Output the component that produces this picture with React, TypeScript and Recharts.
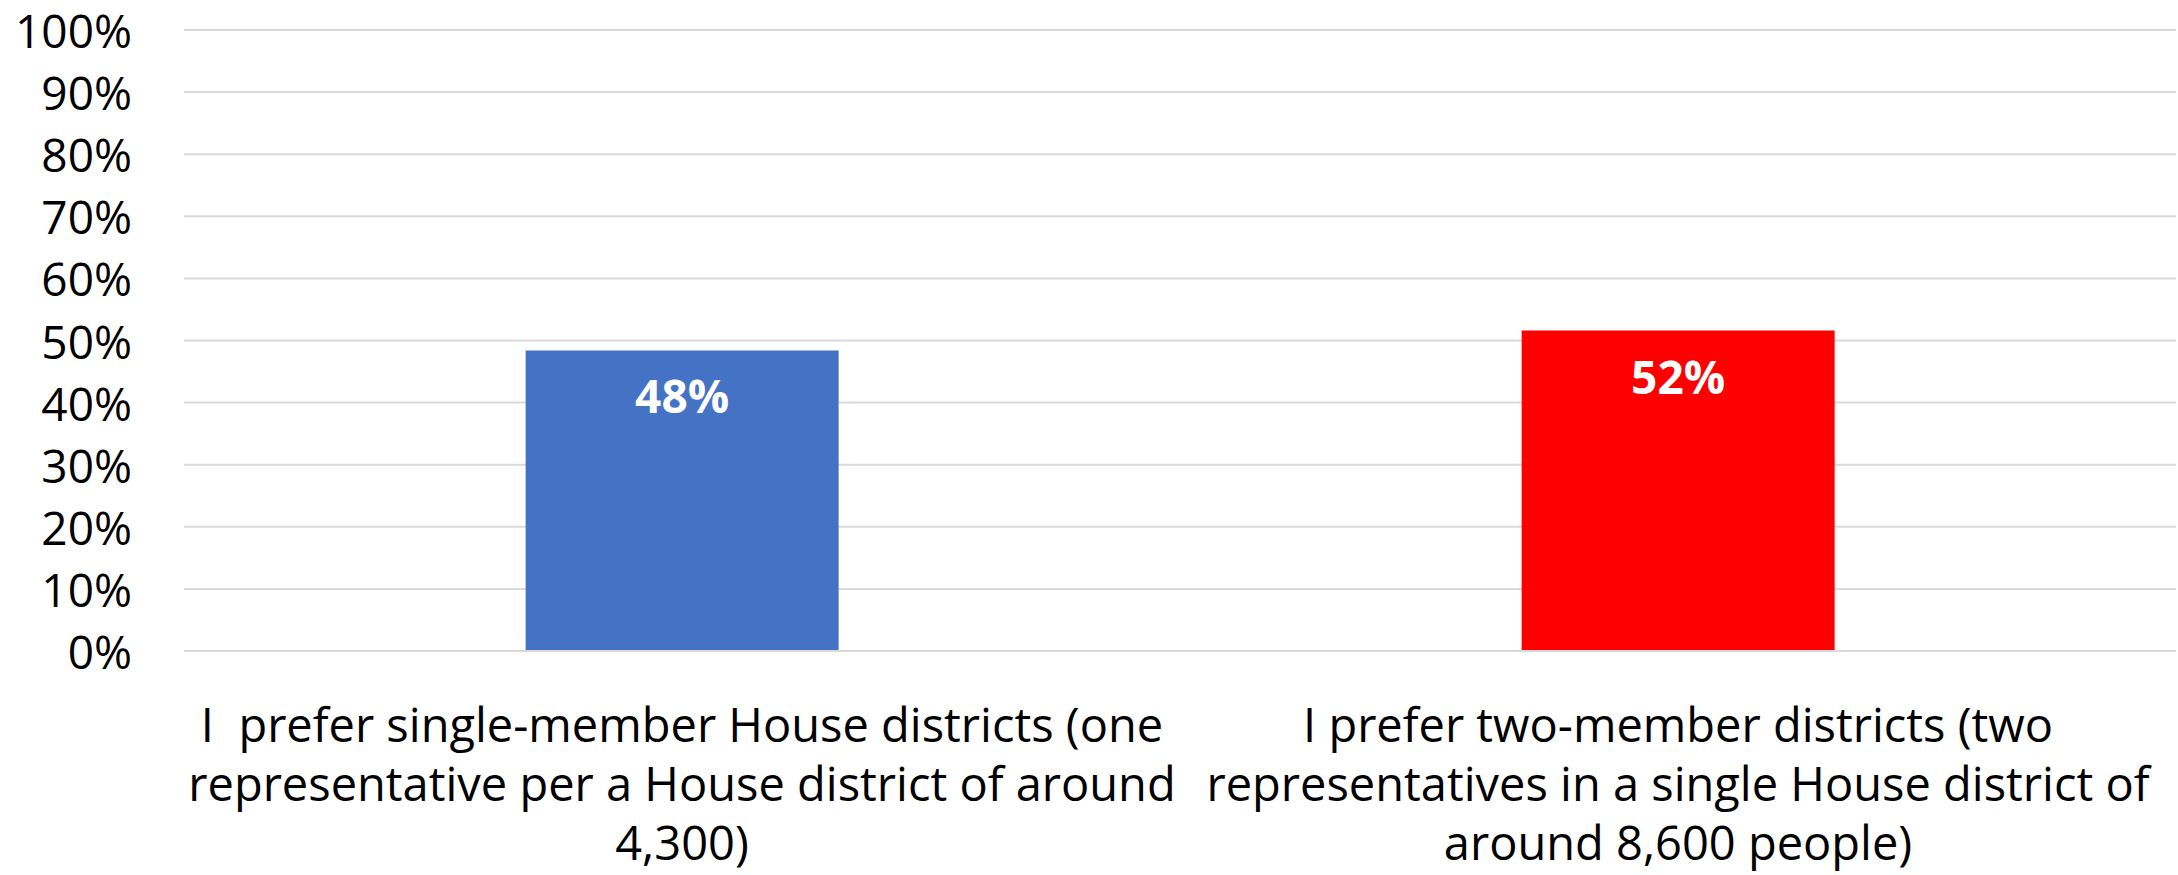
import { Bar, BarChart, CartesianGrid, Cell, LabelList, XAxis, YAxis } from "recharts";

const categories = [
  "I  prefer single-member House districts (one representative per a House district of around 4,300)",
  "I prefer two-member districts (two representatives in a single House district of around 8,600 people)",
];

// how the category text wraps under each bar
const categoryLines = [
  ["I  prefer single-member House districts (one", "representative per a House district of around", "4,300)"],
  ["I prefer two-member districts (two", "representatives in a single House district of", "around 8,600 people)"],
];

const shares = [0.484, 0.516];
const barColors = ["#4472C4", "#FF0000"];
const yTicks = [0, 0.1, 0.2, 0.3, 0.4, 0.5, 0.6, 0.7, 0.8, 0.9, 1];

const data = categories.map((name, i) => ({ name, share: shares[i] }));

const FONT = "'Open Sans', 'Noto Sans', sans-serif";
const pct = (v: number) => `${Math.round(v * 100)}%`;

function CategoryTick({ x, y, index }: { x?: number; y?: number; index?: number }) {
  const lines = categoryLines[index ?? 0] ?? [];
  return (
    <g>
      {lines.map((line, i) => (
        <text
          key={i}
          x={x}
          y={(y ?? 0) + 83 + i * 59}
          textAnchor="middle"
          fontFamily={FONT}
          fontSize={47}
          fill="#000"
          style={{ whiteSpace: "pre" }}
        >
          {line}
        </text>
      ))}
    </g>
  );
}

function PercentTick({ y, payload }: { y?: number; payload?: { value: number } }) {
  return (
    <text
      x={132}
      y={y}
      textAnchor="end"
      dominantBaseline="central"
      fontFamily={FONT}
      fontSize={46}
      fill="#000"
    >
      {pct(payload?.value ?? 0)}
    </text>
  );
}

function BarValue(props: any) {
  const { x, y, width, value } = props;
  return (
    <text
      x={x + width / 2}
      y={y + 45}
      textAnchor="middle"
      dominantBaseline="central"
      fontFamily={FONT}
      fontWeight={700}
      fontSize={46}
      fill="#fff"
    >
      {pct(value)}
    </text>
  );
}

export default function App() {
  return (
    <div style={{ position: "absolute", left: 0, top: 0, width: 2178, height: 875, background: "#fff" }}>
      <BarChart
        width={2178}
        height={875}
        data={data}
        margin={{ top: 30, right: 2, left: 0, bottom: 0 }}
        barCategoryGap="34.3%"
      >
        <CartesianGrid vertical={false} stroke="#d9d9d9" strokeWidth={2} />
        <XAxis
          dataKey="name"
          axisLine={{ stroke: "#d9d9d9", strokeWidth: 2 }}
          tickLine={false}
          height={224}
          interval={0}
          tick={<CategoryTick />}
        />
        <YAxis
          domain={[0, 1]}
          ticks={yTicks}
          width={184}
          axisLine={false}
          tickLine={false}
          tick={<PercentTick />}
        />
        <Bar dataKey="share" isAnimationActive={false}>
          {data.map((d, i) => (
            <Cell key={d.name} fill={barColors[i]} />
          ))}
          <LabelList dataKey="share" content={<BarValue />} />
        </Bar>
      </BarChart>
    </div>
  );
}
